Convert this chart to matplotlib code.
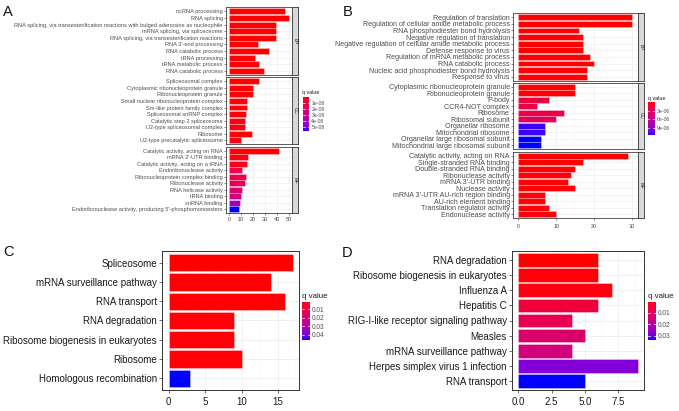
import numpy as np
import matplotlib
matplotlib.use("Agg")
import matplotlib.pyplot as plt
from matplotlib.colors import ListedColormap, Normalize

# ---- data --------------------------------------------------------------------
a_bp_terms = ["ncRNA processing", "RNA splicing",
              "RNA splicing, via transesterification reactions with bulged adenosine as nucleophile",
              "mRNA splicing, via spliceosome", "RNA splicing, via transesterification reactions",
              "RNA 3'-end processing", "RNA catabolic process", "tRNA processing",
              "tRNA metabolic process", "RNA catabolic process"]
a_bp_count = [46.5, 49.7, 38.7, 38.7, 38.7, 24, 33, 22, 25, 29]
a_bp_q = [1e-12, 1e-12, 1e-12, 1e-12, 1e-12, 5e-10, 1e-12, 8e-10, 5e-10, 2e-10]

a_cc_terms = ["Spliceosomal complex", "Cytoplasmic ribonucleoprotein granule",
              "Ribonucleoprotein granule", "Small nuclear ribonucleoprotein complex",
              "Sm-like protein family complex", "Spliceosomal snRNP complex",
              "Catalytic step 2 spliceosome", "U2-type spliceosomal complex", "Ribosome",
              "U2-type precatalytic spliceosome"]
a_cc_count = [25, 20, 20, 15, 15, 14, 13, 13, 19, 10]
a_cc_q = [1e-10, 5e-10, 5e-10, 1e-9, 1e-9, 1.2e-9, 1.5e-9, 1.5e-9, 8e-10, 2e-9]

a_mf_terms = ["Catalytic activity, acting on RNA", "mRNA 3'-UTR binding",
              "Catalytic activity, acting on a tRNA", "Endoribonuclease activity",
              "Ribonucleoprotein complex binding", "Ribonuclease activity",
              "RNA helicase activity", "tRNA binding", "snRNA binding",
              "Endoribonuclease activity, producing 5'-phosphomonoesters"]
a_mf_count = [41.7, 16, 15, 11, 14, 13, 11, 10, 9, 8]
a_mf_q = [1e-11, 2e-9, 3e-9, 1.1e-8, 1.3e-8, 1.5e-8, 2.2e-8, 2.5e-8, 4.1e-8, 5.7e-8]

b_bp_terms = ["Regulation of translation", "Regulation of cellular amide metabolic process",
              "RNA phosphodiester bond hydrolysis", "Negative regulation of translation",
              "Negative regulation of cellular amide metabolic process",
              "Defense response to virus", "Regulation of mRNA metabolic process",
              "RNA catabolic process", "Nucleic acid phosphodiester bond hydrolysis",
              "Response to virus"]
b_bp_count = [30, 30, 16, 17, 17, 17, 19, 20, 18, 18]
b_bp_q = [1e-9, 1e-9, 5e-8, 5e-8, 5e-8, 8e-8, 5e-8, 5e-8, 8e-8, 1e-7]

b_cc_terms = ["Cytoplasmic ribonucleoprotein granule", "Ribonucleoprotein granule", "P-body",
              "CCR4-NOT complex", "Ribosome", "Ribosomal subunit", "Organellar ribosome",
              "Mitochondrial ribosome", "Organellar large ribosomal subunit",
              "Mitochondrial large ribosomal subunit"]
b_cc_count = [15, 15, 8, 5, 12, 10, 7, 7, 6, 6]
b_cc_q = [1e-8, 1e-8, 2.3e-6, 2.3e-6, 2.6e-6, 3.5e-6, 1.13e-5, 1.13e-5, 1.17e-5, 1.17e-5]

b_mf_terms = ["Catalytic activity, acting on RNA", "Single-stranded RNA binding",
              "Double-stranded RNA binding", "Ribonuclease activity", "mRNA 3'-UTR binding",
              "Nuclease activity", "mRNA 3'-UTR AU-rich region binding",
              "AU-rich element binding", "Translation regulator activity",
              "Endonuclease activity"]
b_mf_count = [29, 17, 15, 14, 13, 15, 7, 7, 8, 10]
b_mf_q = [1e-9, 1e-8, 5e-8, 1e-7, 1e-7, 1.5e-7, 1.5e-7, 1.5e-7, 2e-7, 2e-7]

c_terms = ["Spliceosome", "mRNA surveillance pathway", "RNA transport", "RNA degradation",
           "Ribosome biogenesis in eukaryotes", "Ribosome", "Homologous recombination"]
c_count = [17, 14, 16, 9, 9, 10, 3]
c_q = [0.001, 0.0012, 0.0012, 0.0015, 0.0015, 0.0015, 0.0463]

d_terms = ["RNA degradation", "Ribosome biogenesis in eukaryotes", "Influenza A", "Hepatitis C",
           "RIG-I-like receptor signaling pathway", "Measles", "mRNA surveillance pathway",
           "Herpes simplex virus 1 infection", "RNA transport"]
d_count = [6, 6, 7, 6, 4, 5, 4, 9, 5]
d_q = [0.0005, 0.0008, 0.0015, 0.006, 0.009, 0.013, 0.015, 0.028, 0.0335]


# ---- red -> blue gradient interpolated in Lab (like ggplot) ------------------
M = np.array([[0.4124, 0.3576, 0.1805], [0.2126, 0.7152, 0.0722], [0.0193, 0.1192, 0.9505]])
WHITE = np.array([0.95047, 1.0, 1.08883])


def to_lab(rgb):
    c = np.asarray(rgb, float)
    c = np.where(c <= 0.04045, c / 12.92, ((c + 0.055) / 1.055) ** 2.4)
    xyz = (M @ c) / WHITE
    f = np.where(xyz > 0.008856, np.cbrt(xyz), 7.787 * xyz + 16 / 116)
    return np.array([116 * f[1] - 16, 500 * (f[0] - f[1]), 200 * (f[1] - f[2])])


def from_lab(lab):
    fy = (lab[0] + 16) / 116
    f = np.array([fy + lab[1] / 500, fy, fy - lab[2] / 200])
    xyz = np.where(f ** 3 > 0.008856, f ** 3, (f - 16 / 116) / 7.787) * WHITE
    c = np.linalg.solve(M, xyz)
    c = np.clip(c, 0, 1)
    c = np.where(c <= 0.0031308, 12.92 * c, 1.055 * c ** (1 / 2.4) - 0.055)
    return np.clip(c, 0, 1)


lo, hi = to_lab([1, 0, 0]), to_lab([0, 0, 1])
cmap = ListedColormap([from_lab(lo + t * (hi - lo)) for t in np.linspace(0, 1, 256)])

# ---- layout helpers ------------------------------------------------------------
W, H = 679, 411
fig = plt.figure(figsize=(W / 100, H / 100), dpi=100)
plt.rcParams["font.family"] = ["Liberation Sans", "DejaVu Sans"]
TXT = "#4D4D4D"
EDGE = "#333333"


def box(l, t, r, b):
    return [l / W, 1 - b / H, (r - l) / W, (b - t) / H]


def bars(rect, terms, counts, qs, norm, xlim, xticks, minor, fs, show_x, tlen, lw):
    ax = fig.add_axes(box(*rect))
    n = len(terms)
    y = np.arange(n)[::-1]
    ax.barh(y, counts, height=0.9, color=cmap(norm(np.array(qs))),
            edgecolor=(1, 1, 1, 0.45), linewidth=lw, zorder=2)
    ax.set_ylim(-0.6, n - 0.4)
    ax.set_xlim(*xlim)
    ax.set_yticks(y)
    ax.set_yticklabels(terms, fontsize=fs, color=TXT)
    ax.set_xticks(xticks)
    ax.set_xticks(minor, minor=True)
    ax.grid(which="major", color="#EBEBEB", lw=lw)
    ax.grid(which="minor", axis="x", color="#F4F4F4", lw=lw * 0.6)
    ax.set_axisbelow(True)
    for s in ax.spines.values():
        s.set_color(EDGE)
        s.set_linewidth(lw * 1.4)
    ax.tick_params(axis="y", length=tlen, width=lw, color=EDGE, pad=1)
    ax.tick_params(axis="x", which="minor", length=0)
    if show_x:
        ax.tick_params(axis="x", length=tlen, width=lw, color=EDGE, pad=1.5,
                       labelsize=fs, labelcolor=TXT)
    else:
        ax.tick_params(axis="x", length=0, labelbottom=False)
    return ax


def strip(rect, label, fs):
    sx = fig.add_axes(box(*rect))
    sx.set_facecolor("#D9D9D9")
    sx.set_xticks([])
    sx.set_yticks([])
    for s in sx.spines.values():
        s.set_color(EDGE)
        s.set_linewidth(0.6)
    sx.text(0.5, 0.5, label, rotation=270, ha="center", va="center", fontsize=fs,
            color="#1A1A1A", transform=sx.transAxes)


def qbar(rect, norm, ticks, labels, fs, title_xy, title_fs):
    cax = fig.add_axes(box(*rect))
    grad = np.linspace(norm.vmin, norm.vmax, 256)[:, None]
    cax.imshow(grad, aspect="auto", cmap=cmap, norm=norm, extent=(0, 1, norm.vmax, norm.vmin))
    for t in ticks:
        cax.plot([0, 0.2], [t, t], color="white", lw=0.5)
        cax.plot([0.8, 1], [t, t], color="white", lw=0.5)
    cax.set_xticks([])
    cax.yaxis.tick_right()
    cax.set_yticks(ticks)
    cax.set_yticklabels(labels, fontsize=fs, color=TXT)
    cax.tick_params(axis="y", length=0, pad=1.5)
    for s in cax.spines.values():
        s.set_visible(False)
    fig.text(title_xy[0] / W, 1 - title_xy[1] / H, "q value", fontsize=title_fs,
             ha="left", va="center", color="#1A1A1A")


# ---- panel A -------------------------------------------------------------------
norm_a = Normalize(0, 5.7e-8)
a_x = (-2.4, 52.2)
a_ticks = [0, 10, 20, 30, 40, 50]
a_minor = [5, 15, 25, 35, 45]
fs_a = 4.1
bars((226, 7.3, 292, 75), a_bp_terms, a_bp_count, a_bp_q, norm_a, a_x, a_ticks, a_minor, fs_a, False, 1.3, 0.4)
bars((226, 77.3, 292, 144.3), a_cc_terms, a_cc_count, a_cc_q, norm_a, a_x, a_ticks, a_minor, fs_a, False, 1.3, 0.4)
bars((226, 146.7, 292, 213.3), a_mf_terms, a_mf_count, a_mf_q, norm_a, a_x, a_ticks, a_minor, fs_a, True, 1.3, 0.4)
strip((292, 7.3, 298, 75), "BP", 3.4)
strip((292, 77.3, 298, 144.3), "CC", 3.4)
strip((292, 146.7, 298, 213.3), "MF", 3.4)
qbar((303.3, 97.3, 309.3, 130.7), norm_a, [1e-8, 2e-8, 3e-8, 4e-8, 5e-8],
     ["1e-08", "2e-08", "3e-08", "4e-08", "5e-08"], 3.7, (302.5, 92.5), 3.8)

# ---- panel B -------------------------------------------------------------------
norm_b = Normalize(0, 1.17e-5)
b_x = (-1.3, 31.6)
b_ticks = [0, 10, 20, 30]
b_minor = [5, 15, 25]
fs_b = 5.1
bars((513.3, 13.3, 638.3, 80.7), b_bp_terms, b_bp_count, b_bp_q, norm_b, b_x, b_ticks, b_minor, fs_b, False, 1.5, 0.4)
bars((513.3, 82.7, 638.3, 149), b_cc_terms, b_cc_count, b_cc_q, norm_b, b_x, b_ticks, b_minor, fs_b, False, 1.5, 0.4)
ax_bmf = bars((513.3, 151.7, 638.3, 218.3), b_mf_terms, b_mf_count, b_mf_q, norm_b, b_x, b_ticks, b_minor, fs_b, True, 1.5, 0.4)
ax_bmf.tick_params(axis="x", labelsize=4.0, pad=2.5)
strip((638.3, 13.3, 644.3, 80.7), "BP", 3.4)
strip((638.3, 82.7, 644.3, 149), "CC", 3.4)
strip((638.3, 151.7, 644.3, 218.3), "MF", 3.4)
qbar((648, 102, 654.7, 135.3), norm_b, [3e-6, 6e-6, 9e-6], ["3e-06", "6e-06", "9e-06"],
     3.7, (647.5, 98.5), 3.8)

# ---- panel C -------------------------------------------------------------------
norm_c = Normalize(0.001, 0.0463)
ax_c = bars((162.3, 251, 299, 390), c_terms, c_count, c_q, norm_c, (-0.85, 17.85),
            [0, 5, 10, 15], [2.5, 7.5, 12.5, 17.5], 7.0, True, 2.5, 0.5)
ax_c.tick_params(axis="y", labelcolor="#1A1A1A", pad=1.5)
ax_c.tick_params(axis="x", labelcolor="#1A1A1A", labelsize=7.0, pad=2.5)
qbar((302, 301.7, 310, 340), norm_c, [0.01, 0.02, 0.03, 0.04], ["0.01", "0.02", "0.03", "0.04"],
     4.7, (301.5, 296), 5.7)

# ---- panel D -------------------------------------------------------------------
norm_d = Normalize(0.0005, 0.0335)
ax_d = bars((512.3, 251, 644.3, 390), d_terms, d_count, d_q, norm_d, (-0.45, 9.45),
            [0, 2.5, 5, 7.5], [1.25, 3.75, 6.25, 8.75], 7.0, True, 2.5, 0.5)
ax_d.set_xticklabels(["0.0", "2.5", "5.0", "7.5"])
ax_d.tick_params(axis="y", labelcolor="#1A1A1A", pad=1.5)
ax_d.tick_params(axis="x", labelcolor="#1A1A1A", labelsize=7.0, pad=2.5)
qbar((648.3, 301.7, 655.7, 340), norm_d, [0.01, 0.02, 0.03], ["0.01", "0.02", "0.03"],
     4.7, (647.5, 296), 5.7)

# ---- panel letters -------------------------------------------------------------
for lab, px, py in [("A", 7.5, 12), ("B", 348, 12), ("C", 8, 252), ("D", 347.5, 253)]:
    fig.text(px / W, 1 - py / H, lab, fontsize=10.5, ha="center", va="center", color="#111111")

fig.savefig("out.png", dpi=100)
